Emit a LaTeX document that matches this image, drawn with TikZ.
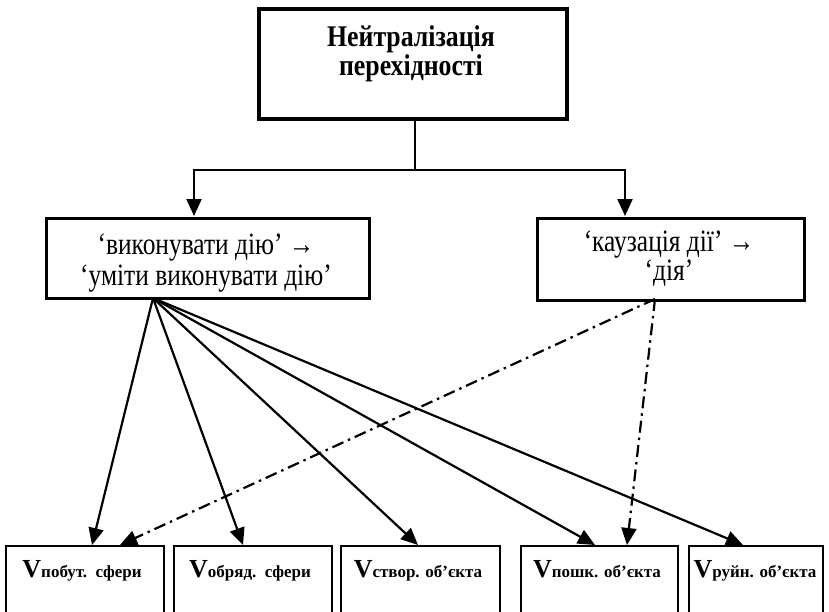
\documentclass[tikz,border=0pt]{standalone}
\usepackage{fontspec}
\setmainfont{Liberation Serif}
\newfontfamily\tallfont[FakeStretch=0.82]{Liberation Serif}
\newfontfamily\tallbold[FakeStretch=0.86]{Liberation Serif Bold}
\usetikzlibrary{arrows.meta,calc}
\tikzset{
  thickbox/.style={draw, line width=4pt, inner sep=0pt, anchor=north west},
  midbox/.style={draw, line width=3pt, inner sep=0pt, anchor=north west},
  lowbox/.style={draw, line width=2pt, inner sep=0pt, anchor=north west},
  txt/.style={anchor=base, inner sep=0pt},
  toptxt/.style={txt, font=\tallbold\fontsize{30}{32}\selectfont},
  midtxt/.style={txt, font=\tallfont\fontsize{31}{32}\selectfont},
  conn/.style={line width=2.2pt, -{Triangle[length=17pt,width=15pt]}},
  dashconn/.style={conn, dash pattern=on 12pt off 5pt on 2.5pt off 5pt},
}
\newcommand{\vlabel}[1]{{\bfseries\fontsize{26}{26}\selectfont V}{\bfseries\fontsize{17}{17}\selectfont #1}}
\begin{document}
\begin{tikzpicture}[x=1pt,y=-1pt]
\useasboundingbox (0,0) rectangle (829,611);
\clip (0,0) rectangle (829,611);
% top box
\node[thickbox, minimum width=308pt, minimum height=110pt] (top) at (257,7) {};
\node[toptxt] (t1) at (411,46) {Нейтралізація};
\node[toptxt] (t2) at (411,75) {перехідності};
% middle boxes
\node[midbox, minimum width=323pt, minimum height=80pt] (lbox) at (45,217) {};
\node[midtxt] (l1) at (206,254) {‘виконувати дію’ →};
\node[midtxt] (l2) at (206,285) {‘уміти виконувати дію’};
\node[midbox, minimum width=267pt, minimum height=82pt] (rbox) at (536,217) {};
\node[midtxt] (r1) at (669,251) {‘каузація дії’ →};
\node[midtxt] (r2) at (669,280) {‘дія’};
% bottom boxes
\node[lowbox, minimum width=158pt, minimum height=100pt] (b1) at (5,545) {};
\node[lowbox, minimum width=158pt, minimum height=100pt] (b2) at (173,545) {};
\node[lowbox, minimum width=159pt, minimum height=100pt] (b3) at (340,545) {};
\node[lowbox, minimum width=157pt, minimum height=100pt] (b4) at (520,545) {};
\node[lowbox, minimum width=134pt, minimum height=100pt] (b5) at (688,545) {};
\node[txt] (v1) at (82,577) {\vlabel{побут.\ \ сфери}};
\node[txt] (v2) at (250,577) {\vlabel{обряд.\ \ сфери}};
\node[txt] (v3) at (418,577) {\vlabel{створ. об’єкта}};
\node[txt] (v4) at (597,577) {\vlabel{пошк. об’єкта}};
\node[txt] (v5) at (755,577) {\vlabel{руйн. об’єкта}};
% connectors from top
\coordinate (split) at (415,170);
\coordinate (ltop) at (194,216);
\coordinate (rtop) at (625,216);
\draw[line width=2.2pt] (415,117) -- (split);
\draw[conn] (split) -| (ltop);
\draw[conn] (split) -| (rtop);
% fan
\coordinate (fan) at (153,298);
\coordinate (e1) at (92,545);
\coordinate (e2) at (243,545);
\coordinate (e3) at (418,545);
\coordinate (e4) at (595,545);
\coordinate (e5) at (743,545);
\foreach \e in {e1,e2,e3,e4,e5} \draw[conn] (fan) -- (\e);
% dash-dot
\coordinate (dd) at (655,299);
\coordinate (d1) at (120,545);
\coordinate (d4) at (627,545);
\draw[dashconn] (dd) -- (d1);
\draw[dashconn] (dd) -- (d4);
\end{tikzpicture}
\end{document}
